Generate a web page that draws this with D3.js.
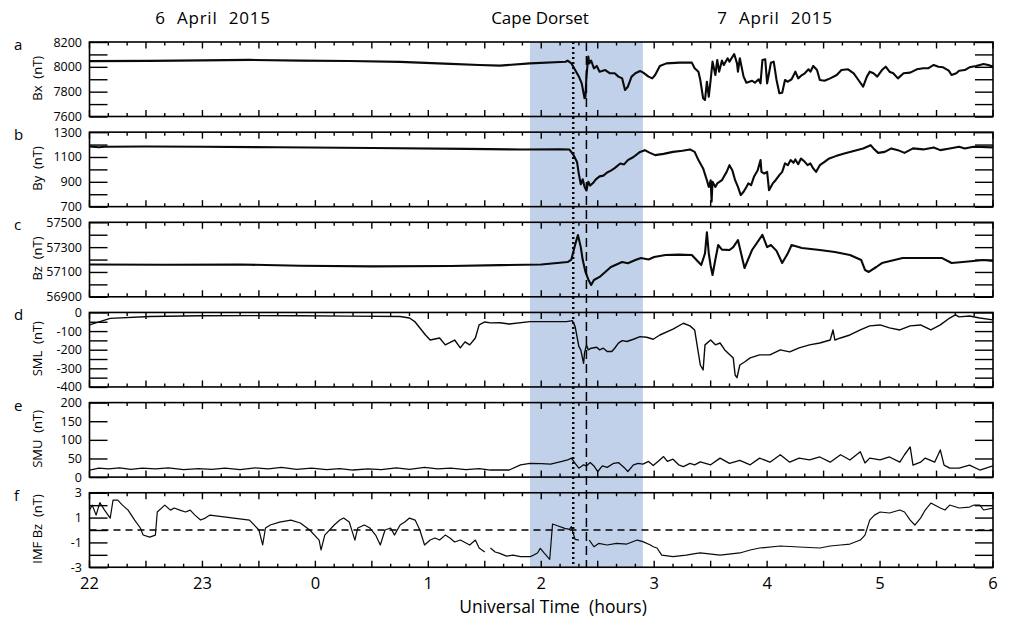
<!DOCTYPE html>
<html><head><meta charset="utf-8">
<script src="https://cdn.jsdelivr.net/npm/d3@7"></script>
<style>
body{margin:0;background:#fff;}
svg{display:block;}
text{font-family:"Open Sans",sans-serif;fill:#000;}
</style>
</head><body>
<svg id="chart" width="1009" height="621"></svg>
<script>
// ---- time axis: minutes after 22:00 UT on 6 April 2015 ----
const hourLabels = ["22","23","0","1","2","3","4","5","6"];
const headerLabels = ["6 April 2015","Cape Dorset","7 April 2015"];
const shadeInterval = [234, 294];
const dottedTime = 257;
const dashedTime = 264;

const panelLetters = ["a","b","c","d","e","f"];
const panelTitles = ["Bx  (nT)","By  (nT)","Bz  (nT)","SML  (nT)","SMU  (nT)","IMF Bz  (nT)"];
const yDomains = [[7600,8200],[700,1300],[56900,57500],[-400,0],[0,200],[-3,3]];
const yTickSteps = [100,100,100,50,50,1];
const yLabelValues = [[7600,7800,8000,8200],[700,900,1100,1300],[56900,57100,57300,57500],[-400,-300,-200,-100,0],[0,50,100,150,200],[-3,-1,1,3]];

// ---- series: [minutes after 22 UT, value] ----
const bx = [[0,8046],[32,8048],[60,8052],[85,8056],[112,8050],[138,8047],[165,8040],[192,8024],[207,8015],[218,8010],[234,8028],[253,8041],[254,8050],[256,8028],[258,7974],[260,7921],[261.5,7867],[263,7747],[263.5,7760],[264,7921],[265,8082],[265.5,8028],[266.5,8050],[268,7988],[269.5,8007],[271,7961],[274,7974],[276.5,7948],[279,7948],[281,7921],[283,7907],[284.5,7813],[286,7840],[288,7921],[290,7948],[292.5,7966],[294,7955],[297,7921],[299,7907],[300.5,7934],[303,8007],[306.5,8028],[313.5,8034],[320,8034],[321.5,7988],[323.5,7961],[324.5,7894],[326,7747],[327,7733],[328,7880],[329,7760],[330,7894],[331,8042],[332.5,7934],[333.5,8055],[334.5,7961],[336,8050],[337,8015],[339,8069],[340,8042],[342.5,8103],[344,8028],[344.5,7961],[345.5,8069],[347.5,7921],[349,7872],[352,7888],[353.5,7872],[355.5,7900],[356.5,7867],[357.5,8055],[359,8061],[360,7867],[361,7948],[362,8033],[363.5,8042],[365,7894],[366.5,7787],[368,7792],[369.5,7894],[371,7880],[373,7900],[375,7961],[376.5,7907],[378.5,7934],[380,7948],[382,7980],[383,7961],[384.5,8007],[386.5,7974],[388,7894],[390.5,7888],[393.5,7907],[397,7934],[399.5,7974],[403,7980],[406,7948],[408.5,7894],[411,7840],[413,7921],[414.5,7961],[416.5,7948],[418.5,7921],[421,7974],[423,8001],[425,7961],[427,7948],[429.5,7907],[432.5,7948],[436,7953],[439.5,7980],[443,7988],[445.5,7988],[448.5,8015],[451,8001],[453.5,7996],[456.5,7969],[458,7934],[460.5,7948],[462,7969],[465,7974],[467.5,7996],[471,8007],[475,8023],[477.5,8015],[480,8001]];

const by = [[0,1185],[5,1178],[8,1183],[30,1185],[60,1182],[100,1178],[150,1172],[200,1165],[230,1160],[250,1162],[255,1160],[257,1120],[259,1060],[260,960],[261,880],[262,920],[263,860],[264,830],[265,900],[266,870],[267.5,890],[269,920],[271,944],[273,950],[275,975],[277,990],[279,1010],[282,1048],[284,1040],[286,1075],[289,1100],[292.5,1141],[295,1155],[297.5,1135],[300.5,1115],[305,1125],[310,1141],[315,1150],[319,1161],[321.5,1141],[323.5,1075],[326,1008],[328,913],[329,859],[330,913],[330.5,739],[331,900],[332.5,859],[333.5,887],[336,913],[337,940],[338.5,980],[340,1034],[341.5,994],[343,913],[344.5,859],[346,793],[347.5,820],[349,859],[350,887],[351.5,873],[353,940],[355,994],[356.5,1075],[357,980],[358.5,967],[360,980],[361,833],[363,887],[364.5,913],[366.5,954],[368,980],[369.5,1048],[371,1034],[372.5,1075],[374,1053],[375,1080],[376.5,1042],[378,1088],[380,1061],[381.5,1034],[383,1048],[384.5,1008],[386,980],[388,1034],[390.5,1061],[393,1088],[396.5,1107],[401,1128],[406,1149],[411,1169],[415,1195],[416.5,1169],[419,1133],[422.5,1141],[426,1169],[429.5,1155],[433,1133],[437.5,1169],[443,1161],[448.5,1177],[452,1155],[457,1169],[462,1182],[465,1169],[469.5,1182],[480,1177]];

const bz = [[0,57160],[40,57158],[80,57160],[112,57150],[150,57145],[192,57148],[218,57155],[240,57160],[254,57180],[256,57200],[258,57320],[259.5,57398],[261,57300],[262,57200],[263.5,57100],[265,57040],[266.5,56995],[268,57035],[271,57060],[274,57100],[277,57140],[280,57160],[283,57180],[286,57170],[290,57196],[293,57212],[297,57200],[300,57220],[306,57237],[313,57240],[320,57237],[323.5,57180],[325,57156],[327,57250],[328,57420],[329,57250],[330,57150],[331,57076],[332.5,57200],[334,57317],[336,57280],[340,57277],[342,57300],[344.5,57357],[348,57132],[352,57277],[357.5,57398],[360,57300],[362,57317],[365,57270],[368,57172],[371,57250],[373,57317],[378.5,57293],[388,57277],[396,57261],[404,57237],[410,57196],[412,57116],[414,57100],[418,57140],[421,57172],[432,57212],[443,57212],[453,57212],[458,57172],[464,57180],[475,57196],[480,57188]];

const sml = [[0,-67],[11,-32],[32,-22],[59,-18],[85,-17],[112,-18],[138,-20],[165,-22],[170,-30],[173,-51],[178.5,-121],[181,-148],[186,-137],[189,-174],[194,-148],[197,-190],[199.5,-158],[202,-174],[205,-137],[207,-67],[210,-51],[213,-56],[218,-55],[223,-62],[234,-49],[253.5,-49],[256.5,-44],[258,-76],[260,-184],[261,-201],[262.5,-273],[263,-219],[264,-174],[265,-201],[266.5,-192],[269.5,-187],[271,-201],[273,-192],[275,-210],[277.5,-210],[279,-192],[281,-165],[283,-151],[285.5,-156],[289,-144],[292.5,-130],[296,-133],[299.5,-144],[303,-121],[310,-90],[315.5,-58],[319,-72],[321.5,-94],[323.5,-219],[324.5,-282],[326,-309],[327,-174],[330,-148],[332.5,-174],[335,-164],[337.5,-201],[342,-244],[343,-336],[344,-350],[345.5,-282],[348,-266],[351,-244],[356,-228],[361.5,-228],[367,-201],[372,-212],[377,-190],[382.5,-174],[388,-164],[393.5,-148],[395,-94],[396,-148],[399,-137],[404,-121],[409.5,-94],[414.5,-72],[420,-67],[425,-83],[430.5,-94],[436,-72],[441.5,-67],[447,-94],[452,-67],[457,-30],[460,-13],[462,-24],[467.5,-19],[473,-30],[480,-40]];

const smu = [[0,19],[5,24],[10,22],[16,25],[22,21],[28,24],[35,22],[42,25],[50,20],[58,23],[65,21],[72,24],[80,20],[88,25],[95,22],[102,26],[110,21],[118,24],[126,20],[133,23],[140,19],[148,22],[155,20],[163,25],[170,21],[178,26],[185,22],[192,24],[200,20],[207,23],[213,19],[218,19],[223,19],[229,33],[234,37],[240,36],[245,35],[251,42],[254,46],[256,51],[258,37],[260,24],[262.5,33],[264,30],[266,39],[268,30],[270,15],[272.5,30],[275,26],[278.5,37],[281,39],[284,26],[286,15],[289,33],[291.5,37],[294,35],[297,42],[299.5,31],[302,42],[305,55],[307,42],[310,48],[313,33],[315.5,28],[319,37],[321.5,33],[324.5,41],[330,33],[335,51],[340,37],[345.5,45],[351,33],[356,51],[361.5,40],[367,60],[372,40],[377,51],[382.5,46],[388,54],[393.5,40],[399,60],[404,46],[409.5,68],[412,38],[414.5,51],[420,46],[425,54],[430.5,40],[433,60],[436,81],[437.5,32],[441.5,40],[444,51],[449,40],[452,73],[454,32],[457,24],[462,24],[467.5,32],[473,19],[480,30]];

const imfBz = [[0,1.6],[1.5,2.0],[3.5,1.2],[5.5,2.2],[8,1.6],[11,0.96],[12.5,2.4],[15,2.4],[17.5,2.0],[20.5,1.6],[24,0.8],[27,0.16],[28.5,-0.4],[32,-0.57],[35,-0.41],[36,1.45],[40,2.0],[43,1.6],[45,1.77],[48,1.6],[51,1.45],[53.5,1.6],[56,1.2],[59,0.8],[61.5,0.96],[64,1.2],[85,0.8],[90,0.0],[92,-1.2],[93.5,0.16],[96,0.4],[101,0.64],[107,0.8],[112,0.56],[117,0.0],[122,-0.81],[123,-1.61],[125,-0.41],[130,0.4],[133,0.8],[135,0.96],[138,0.64],[141,-0.81],[142.5,0.16],[146,0.4],[149,0.16],[152,-0.41],[154.5,-1.21],[157,0.0],[160,0.16],[162,-0.41],[165,0.4],[167.5,0.64],[170,0.96],[173,0.8],[175.5,0.0],[178,-1.21],[181,-0.81],[183.5,-0.65],[186,-0.81],[189,-0.41],[191.5,-0.65],[194,-0.97],[197,-0.81],[202,-1.21],[205,-0.81],[207,-1.45],[210,-1.77],[211,null],[213,-1.45],[215.5,-1.77],[218,-1.88],[221.5,-2.10],[225,-2.02],[229,-2.15],[234,-2.15],[236,-2.02],[238,-1.85],[239.5,-1.48],[241.5,-1.85],[244.5,-2.36],[246,0.48],[249,0.32],[252.5,0.13],[255,0.05],[256,0.27],[257,-0.27],[258,-0.75],[260,-0.81],[262,null],[265.5,-0.81],[268,-1.35],[270.5,-1.08],[275,-1.21],[280,-1.07],[285.5,-1.13],[291,-0.81],[294,-0.94],[298,-1.21],[299.5,-1.35],[301.5,-1.45],[304,-2.02],[310,-2.15],[317,-2.02],[322.5,-1.88],[324.5,-1.85],[335,-2.02],[345.5,-1.85],[351,-1.61],[356,-1.45],[367,-1.29],[377,-1.37],[388,-1.45],[393.5,-1.29],[399,-1.21],[404,-1.13],[409.5,-0.81],[412,-0.41],[414.5,0.8],[417,1.2],[420,1.45],[425,1.37],[430.5,1.61],[433,1.45],[436,0.8],[438.5,0.4],[441.5,0.96],[444,1.61],[447,2.17],[449,2.01],[452,1.77],[454.5,1.61],[457,2.01],[462,1.77],[467.5,1.85],[470,2.01],[473,2.01],[475,1.61],[480,1.77]];

const seriesList = [bx, by, bz, sml, smu, imfBz];

// ---- layout ----
const svg = d3.select("#chart");
const L = 89.5, R = 993, top0 = 42, step = 90.15, ph = 74.5;
const lineWidths = [2.1, 2.1, 2.1, 1.4, 1.3, 1.2];
const x = d3.scaleLinear().domain([0, 480]).range([L, R]);
const shade = "#c2d1ea";

svg.append("rect")
  .attr("x", x(shadeInterval[0])).attr("y", top0)
  .attr("width", x(shadeInterval[1]) - x(shadeInterval[0]))
  .attr("height", 5*step + ph)
  .attr("fill", shade);

const defs = svg.append("defs");

seriesList.forEach((data, i) => {
  const top = top0 + i*step, bot = top + ph;
  const y = d3.scaleLinear().domain(yDomains[i]).range([bot, top]);
  const g = svg.append("g");

  defs.append("clipPath").attr("id", "clip"+i)
    .append("rect").attr("x", L).attr("y", top).attr("width", R-L).attr("height", ph);

  if (i === 5) {
    g.append("line").attr("x1", L).attr("x2", R).attr("y1", y(0)).attr("y2", y(0))
      .attr("stroke", "#000").attr("stroke-width", 1.3).attr("stroke-dasharray", "7,5");
  }

  const [y0, y1] = yDomains[i];
  const tv = d3.range(y0, y1 + yTickSteps[i]/2, yTickSteps[i]);
  const left = d3.axisLeft(y).tickValues(tv).tickSize(-18).tickPadding(7.5)
    .tickFormat(v => yLabelValues[i].includes(v) ? String(v) : "");
  const ga = g.append("g").attr("transform", `translate(${L},0)`).call(left);
  ga.select(".domain").remove();
  ga.selectAll("line").attr("stroke", "#000").attr("stroke-width", 1.4);
  ga.selectAll("text").style("font-size", "12.5px").attr("fill", "#000");

  const right = d3.axisRight(y).tickValues(tv).tickSize(-18).tickFormat("");
  const gr = g.append("g").attr("transform", `translate(${R},0)`).call(right);
  gr.select(".domain").remove();
  gr.selectAll("line").attr("stroke", "#000").attr("stroke-width", 1.4);

  const xt = d3.range(0, 481, 10);
  xt.forEach(t => {
    const len = (t % 30 === 0) ? 6.5 : 3.5;
    g.append("line").attr("x1", x(t)).attr("x2", x(t)).attr("y1", top).attr("y2", top + len)
      .attr("stroke", "#000").attr("stroke-width", 1.4);
    g.append("line").attr("x1", x(t)).attr("x2", x(t)).attr("y1", bot).attr("y2", bot - len)
      .attr("stroke", "#000").attr("stroke-width", 1.4);
  });

  const line = d3.line().defined(d => d[1] !== null).x(d => x(d[0])).y(d => y(d[1]));
  g.append("path").datum(data).attr("d", line).attr("fill", "none")
    .attr("stroke", "#0a0a0a").attr("stroke-width", lineWidths[i])
    .attr("stroke-linejoin", "round").attr("clip-path", `url(#clip${i})`);

  g.append("rect").attr("x", L).attr("y", top).attr("width", R-L).attr("height", ph)
    .attr("fill", "none").attr("stroke", "#000").attr("stroke-width", 1.6);

  svg.append("text").attr("x", 14).attr("y", top + 8).text(panelLetters[i])
    .style("font-size", "15px");
  svg.append("text").attr("transform", `translate(41.5,${top + ph/2 - 1}) rotate(-90)`)
    .attr("text-anchor", "middle").style("font-size", "13px").style("white-space", "pre")
    .text(panelTitles[i]);
});

const yTop = top0, yBot = top0 + 5*step + ph;
svg.append("line").attr("x1", x(dottedTime)).attr("x2", x(dottedTime)).attr("y1", yTop).attr("y2", yBot)
  .attr("stroke", "#000").attr("stroke-width", 2.4).attr("stroke-dasharray", "2,3");
svg.append("line").attr("x1", x(dashedTime)).attr("x2", x(dashedTime)).attr("y1", yTop).attr("y2", yBot)
  .attr("stroke", "#000").attr("stroke-width", 1.5).attr("stroke-dasharray", "9,5");

hourLabels.forEach((lab, k) => {
  svg.append("text").attr("x", x(k*60)).attr("y", 589).attr("text-anchor", "middle")
    .style("font-size", "16.5px").text(lab);
});
svg.append("text").attr("x", 553).attr("y", 613).attr("text-anchor", "middle")
  .style("font-size", "17.5px").style("white-space", "pre").text("Universal Time  (hours)");

const headerX = [213, 540, 775];
headerLabels.forEach((lab, k) => {
  svg.append("text").attr("x", headerX[k]).attr("y", 24).attr("text-anchor", "middle")
    .style("font-size", "17px").style("word-spacing", k === 1 ? "0px" : "6px")
    .style("letter-spacing", k === 1 ? "0px" : "0.8px").text(lab);
});
</script>
</body></html>
